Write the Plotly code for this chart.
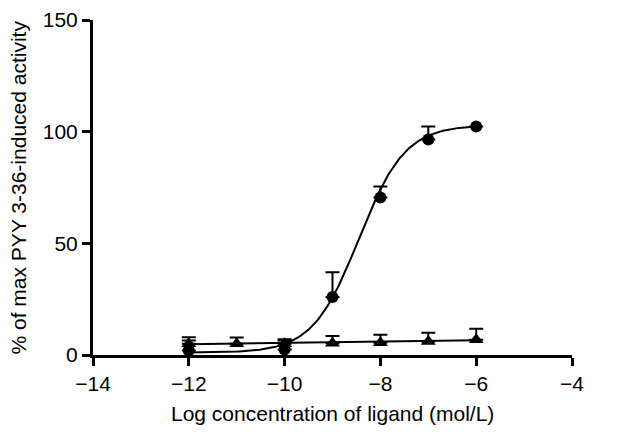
import numpy as np
import plotly.graph_objects as go

# Data
circle_x = [-12, -10, -9, -8, -7, -6]
circle_y = [2.0, 2.5, 26.0, 70.5, 96.5, 102.3]
circle_err = [4.5, 4.0, 11.0, 5.0, 5.8, 0.0]

tri_x = [-12, -11, -10, -9, -8, -7, -6]
tri_y = [5.0, 5.0, 5.0, 5.3, 5.5, 6.0, 6.8]
tri_err = [3.0, 2.8, 2.0, 3.2, 3.6, 4.0, 5.0]

# Fitted curve parameters (sigmoidal dose-response)
fit_bottom = 1.0
fit_top = 103.0
fit_logec50 = -8.45
fit_hill = 0.9
tri_fit_start = 4.8
tri_fit_end = 6.6

x_ticks = [-14, -12, -10, -8, -6, -4]
y_ticks = [0, 50, 100, 150]
x_title = "Log concentration of ligand (mol/L)"
y_title = "% of max PYY 3-36-induced activity"

xc = np.linspace(-12, -6, 200)
yc = fit_bottom + (fit_top - fit_bottom) / (1 + 10 ** ((fit_logec50 - xc) * fit_hill))
yt = np.interp(xc, [-12, -6], [tri_fit_start, tri_fit_end])

fig = go.Figure()
fig.add_trace(go.Scatter(x=xc, y=yt, mode="lines", line=dict(color="black", width=2),
                         hoverinfo="skip", showlegend=False, cliponaxis=False))
fig.add_trace(go.Scatter(x=xc, y=yc, mode="lines", line=dict(color="black", width=2),
                         hoverinfo="skip", showlegend=False, cliponaxis=False))
fig.add_trace(go.Scatter(
    x=tri_x, y=tri_y, mode="markers", cliponaxis=False,
    marker=dict(symbol="triangle-up", size=13, color="black"),
    error_y=dict(type="data", array=tri_err, arrayminus=[0] * len(tri_err), symmetric=False,
                 color="black", thickness=2, width=7),
    showlegend=False))
fig.add_trace(go.Scatter(
    x=circle_x, y=circle_y, mode="markers", cliponaxis=False,
    marker=dict(symbol="circle", size=12, color="black"),
    error_y=dict(type="data", array=circle_err, arrayminus=[0] * len(circle_err), symmetric=False,
                 color="black", thickness=2, width=7),
    showlegend=False))

font_family = "Liberation Sans, Arial, sans-serif"
fig.update_layout(
    width=614, height=427,
    margin=dict(l=85, r=50, t=12, b=80),
    plot_bgcolor="white", paper_bgcolor="white",
    font=dict(family=font_family, color="black"),
    xaxis=dict(range=[-14, -4], tickvals=x_ticks, showgrid=False, zeroline=False,
               showline=True, linecolor="black", linewidth=3, automargin=False,
               ticks="outside", ticklen=8, tickwidth=3, tickcolor="black",
               ticklabeloverflow="allow", tickfont=dict(size=21)),
    yaxis=dict(range=[0, 150], tickvals=y_ticks, showgrid=False, zeroline=False,
               showline=True, linecolor="black", linewidth=3, automargin=False,
               ticks="outside", ticklen=8, tickwidth=3, tickcolor="black",
               ticklabeloverflow="allow", tickfont=dict(size=21)),
    annotations=[
        dict(text=x_title, xref="paper", yref="paper", x=0.5, y=0, xanchor="center",
             yanchor="middle", yshift=-58, showarrow=False, font=dict(size=21)),
        dict(text=y_title, xref="paper", yref="paper", x=0, y=0.5, xanchor="center",
             yanchor="middle", xshift=-75, textangle=-90, showarrow=False, font=dict(size=21)),
    ],
)
fig.write_html("out.html")
